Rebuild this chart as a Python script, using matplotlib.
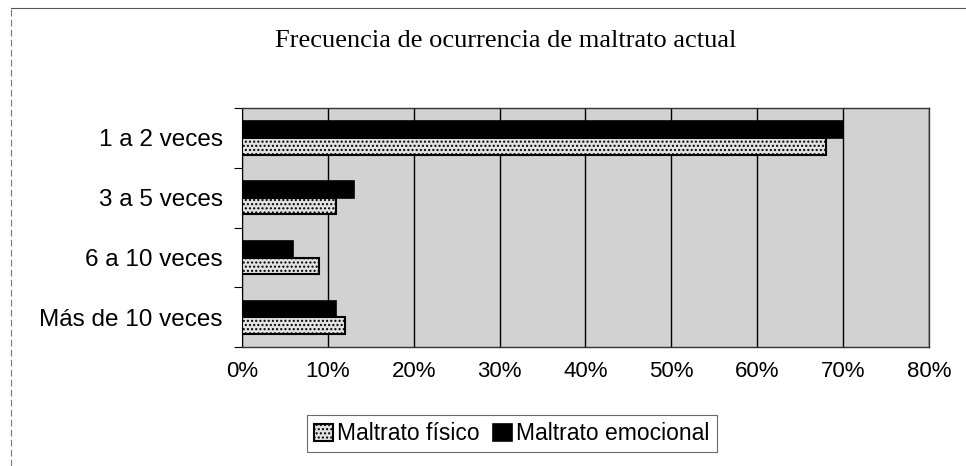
import matplotlib.pyplot as plt
import numpy as np
from matplotlib.lines import Line2D

categorias = ['1 a 2 veces', '3 a 5 veces', '6 a 10 veces', 'Más de 10 veces']
fisico = [68, 11, 9, 12]
emocional = [70, 13, 6, 11]
ticks_x = [0, 10, 20, 30, 40, 50, 60, 70, 80]

fig = plt.figure(figsize=(9.66, 4.66), dpi=100)
ax = fig.add_axes([0.2505, 0.255, 0.711, 0.513])

y = np.arange(len(categorias))[::-1].astype(float)
h = 0.28
ax.set_facecolor('#d2d2d2')
ax.barh(y + h / 2, emocional, height=h, color='black', edgecolor='black', lw=1.2,
        label='Maltrato emocional', zorder=3)
ax.barh(y - h / 2, fisico, height=h, color='#e2e2e2', edgecolor='black', lw=1.5,
        hatch='....', label='Maltrato físico', zorder=3)

ax.set_xlim(0, 80)
ax.set_ylim(-0.5, len(categorias) - 0.5)
ax.set_xticks(ticks_x)
ax.set_xticklabels([f'{t}%' for t in ticks_x], fontsize=16, family='Liberation Sans')
ax.tick_params(axis='x', length=0, pad=10)
ax.xaxis.grid(True, color='black', lw=1)
ax.set_axisbelow(True)

ax.set_yticks(np.arange(-0.5, len(categorias), 1.0))
ax.set_yticklabels([])
ax.set_yticks(y, minor=True)
ax.set_yticklabels(categorias, minor=True, fontsize=17.5, family='Liberation Sans')
ax.tick_params(axis='y', which='major', length=6, direction='out', color='black')
ax.tick_params(axis='y', which='minor', length=0, pad=14)

for s in ['top', 'right', 'bottom']:
    ax.spines[s].set_color('#333333')
    ax.spines[s].set_linewidth(1.0)
ax.spines['left'].set_color('black')

fig.text(0.524, 0.912, 'Frecuencia de ocurrencia de maltrato actual',
         ha='center', va='center', fontsize=19, family='Liberation Serif')

handles, labels = ax.get_legend_handles_labels()
leg = fig.legend(handles[::-1], labels[::-1], loc='center', bbox_to_anchor=(0.53, 0.069),
                 ncol=2, frameon=True, fancybox=False, handlelength=0.8,
                 handleheight=0.8, handletextpad=0.2, columnspacing=0.6,
                 borderpad=0.3, prop={'family': 'Liberation Sans', 'size': 16.5})
leg.get_frame().set_edgecolor('#444444')
leg.get_frame().set_linewidth(0.8)

fig.add_artist(Line2D([0.011, 0.999], [0.983, 0.983], color='#555555', lw=0.8,
                      transform=fig.transFigure))
fig.add_artist(Line2D([0.011, 0.011], [0.0, 0.983], color='#777777', lw=0.8,
                      ls=(0, (6, 3)), transform=fig.transFigure))

fig.savefig('out.png', dpi=100)
